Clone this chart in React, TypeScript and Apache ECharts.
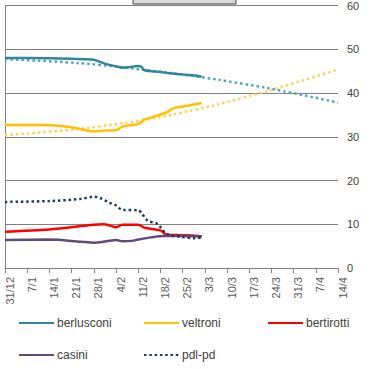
import React, { useEffect, useRef } from "react";
import * as echarts from "echarts";

const xTickLabels = ["31/12", "7/1", "14/1", "21/1", "28/1", "4/2", "11/2", "18/2", "25/2", "3/3", "10/3", "17/3", "24/3", "31/3", "7/4", "14/4"];
const yTicks = [0, 10, 20, 30, 40, 50, 60];

// [day index since 31/12, value]
const berlusconi: [number, number][] = [
  [0, 48.0], [8, 48.0], [17, 47.9], [25, 47.7], [28, 47.6], [30, 47.1], [32, 46.6], [35, 46.1],
  [37, 45.8], [39, 45.9], [42, 46.2], [43, 46.0], [44, 45.2], [49, 44.8], [52, 44.5], [55, 44.3],
  [58, 44.1], [61, 43.9], [62, 43.7],
];
const veltroni: [number, number][] = [
  [0, 32.7], [12, 32.7], [17, 32.5], [23, 31.9], [28, 31.2], [31, 31.4], [35, 31.5], [37, 32.3],
  [39, 32.6], [42, 32.9], [44, 33.9], [47, 34.6], [51, 35.6], [53, 36.5], [56, 36.9], [59, 37.3], [62, 37.7],
];
const bertirotti: [number, number][] = [
  [0, 8.3], [14, 8.8], [28, 9.9], [31, 10.0], [34, 9.5], [35, 9.3], [37, 9.9], [42, 9.9], [44, 9.2],
  [49, 8.6], [51, 7.6], [56, 7.5], [60, 7.4], [62, 7.2],
];
const casini: [number, number][] = [
  [0, 6.4], [14, 6.5], [24, 6.0], [28, 5.8], [32, 6.1], [35, 6.4], [37, 6.1], [40, 6.2], [42, 6.5],
  [46, 7.0], [50, 7.3], [55, 7.3], [62, 7.2],
];
const pdlPd: [number, number][] = [
  [0, 15.1], [14, 15.3], [24, 15.8], [28, 16.3], [30, 16.0], [33, 14.9], [35, 14.3], [37, 13.3],
  [42, 13.2], [43, 12.6], [45, 10.8], [48, 10.1], [51, 7.8], [56, 7.1], [60, 6.8], [62, 7.0],
];
// trend lines
const trendBerlusconi: [number, number][] = [
  [0, 47.7], [15, 47.2], [30, 46.4], [45, 45.2], [60, 43.8], [75, 42.1], [90, 40.1], [105, 37.8],
];
const trendVeltroni: [number, number][] = [
  [0, 30.4], [15, 31.2], [30, 32.4], [45, 34.0], [60, 36.2], [75, 38.9], [90, 42.0], [105, 45.4],
];

const names = ["berlusconi", "veltroni", "bertirotti", "casini", "pdl-pd"];
const colors = ["#31859C", "#FFC000", "#FF0000", "#604A7B", "#1F3864"];
const FONT = "'Liberation Sans', Arial, sans-serif";

export default function App() {
  const ref = useRef<HTMLDivElement>(null);
  useEffect(() => {
    if (!ref.current) return;
    const chart = echarts.init(ref.current, null, { renderer: "svg" });
    const dataSets = [berlusconi, veltroni, bertirotti, casini, pdlPd];
    const legendPos = [
      { left: 18, top: 317 },
      { left: 143, top: 317 },
      { left: 267, top: 317 },
      { left: 18, top: 349 },
      { left: 143, top: 349 },
    ];
    const mainSeries = names.map((n, i) => ({
      type: "line",
      name: n,
      data: dataSets[i],
      symbol: "none",
      smooth: 0.3,
      z: 3,
      lineStyle: {
        color: colors[i],
        width: 2.5,
        type: n === "pdl-pd" ? [2.5, 2.8] : "solid",
      },
      itemStyle: { color: colors[i] },
    }));
    const trendSeries = [
      { name: "trend-b", data: trendBerlusconi, color: "#4FA3BA" },
      { name: "trend-v", data: trendVeltroni, color: "#F8D35A" },
    ].map((t) => ({
      type: "line",
      name: t.name,
      data: t.data,
      symbol: "none",
      smooth: true,
      z: 2,
      lineStyle: { color: t.color, width: 2.5, type: [2.5, 3] },
    }));
    chart.setOption({
      animation: false,
      textStyle: { fontFamily: FONT },
      grid: { left: 5, right: 43, top: 4, bottom: 101, containLabel: false },
      xAxis: {
        type: "value",
        min: 0,
        max: 105,
        interval: 7,
        axisLine: { show: true, lineStyle: { color: "#808080", width: 1 } },
        axisTick: { show: true, length: 5, lineStyle: { color: "#808080" } },
        splitLine: { show: false },
        axisLabel: {
          rotate: 90,
          margin: 9,
          fontSize: 11,
          color: "#595959",
          fontFamily: FONT,
          verticalAlign: "top",
          lineHeight: 9,
          formatter: (v: number) => xTickLabels[Math.round(v / 7)] ?? "",
        },
      },
      yAxis: [
        {
          type: "value",
          position: "right",
          min: yTicks[0],
          max: yTicks[yTicks.length - 1],
          interval: 10,
          axisLine: { show: false },
          axisTick: { show: false },
          splitLine: { show: true, lineStyle: { color: "#808080", width: 1 } },
          axisLabel: { margin: 9, fontSize: 11, color: "#404040", fontFamily: FONT },
        },
        {
          type: "value",
          position: "left",
          min: 0,
          max: 60,
          interval: 10,
          axisLine: { show: true, lineStyle: { color: "#808080", width: 1 } },
          axisTick: { show: false },
          splitLine: { show: false },
          axisLabel: { show: false },
        },
      ],
      legend: names.map((n, i) => ({
        data: [n],
        left: legendPos[i].left,
        top: legendPos[i].top,
        padding: 0,
        itemWidth: 35,
        itemHeight: 12,
        itemGap: 0,
        selectedMode: false,
        itemStyle: { opacity: 0 },
        textStyle: { fontSize: 12, color: "#404040", fontFamily: FONT, padding: [0, 0, 0, -2] },
      })),
      graphic: [
        {
          type: "rect",
          shape: { x: 133, y: -5, width: 103, height: 9 },
          style: { fill: "#D9D9D9", stroke: "#404040", lineWidth: 1 },
          z: 10,
        },
      ],
      series: [...trendSeries, ...mainSeries],
    });
    return () => chart.dispose();
  }, []);
  return <div ref={ref} style={{ position: "absolute", left: 0, top: 0, width: 381, height: 369 }} />;
}
